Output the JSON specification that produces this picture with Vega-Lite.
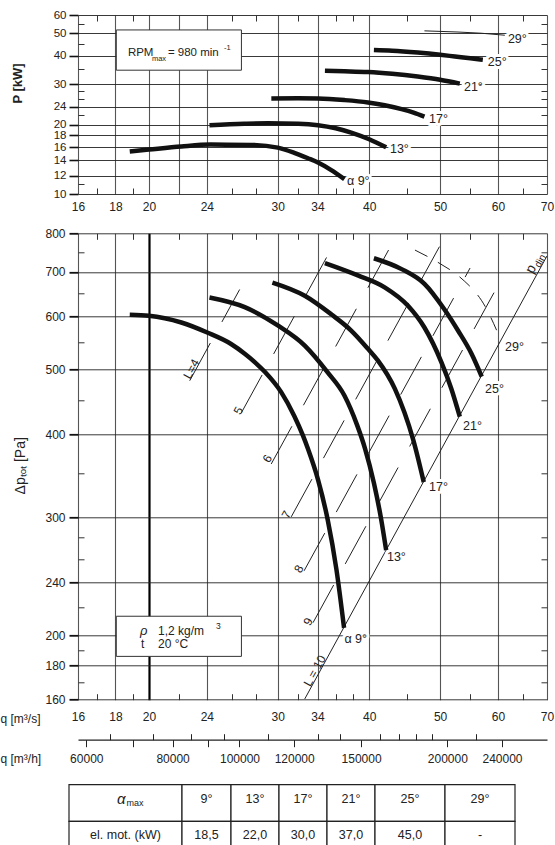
{
"$schema":"https://vega.github.io/schema/vega-lite/v6.json",
"background":"white",
"padding":{"left":0,"top":9,"right":0,"bottom":0},
"autosize":{"type":"pad"},
"spacing":39.3,
"bounds":"flush",
"datasets":{
 "power":[
  {"a":"9","q":18.83,"P":15.3},{"a":"9","q":20,"P":15.6},{"a":"9","q":22.15,"P":16.1},{"a":"9","q":24.3,"P":16.4},{"a":"9","q":27.6,"P":16.35},{"a":"9","q":30,"P":15.9},{"a":"9","q":31.6,"P":15.1},{"a":"9","q":33,"P":14.3},{"a":"9","q":34.05,"P":13.7},{"a":"9","q":35.5,"P":12.7},{"a":"9","q":37,"P":11.6},
  {"a":"13","q":24.2,"P":19.9},{"a":"13","q":27,"P":20.2},{"a":"13","q":29.1,"P":20.3},{"a":"13","q":32,"P":20.2},{"a":"13","q":34.05,"P":19.9},{"a":"13","q":36,"P":19.3},{"a":"13","q":37.8,"P":18.5},{"a":"13","q":40,"P":17.3},{"a":"13","q":42.2,"P":15.95},
  {"a":"17","q":29.4,"P":26.0},{"a":"17","q":32,"P":26.05},{"a":"17","q":34.05,"P":26.0},{"a":"17","q":37,"P":25.6},{"a":"17","q":39.85,"P":25.0},{"a":"17","q":42,"P":24.3},{"a":"17","q":44.3,"P":23.4},{"a":"17","q":46,"P":22.6},{"a":"17","q":47.6,"P":21.7},
  {"a":"21","q":34.8,"P":34.3},{"a":"21","q":37,"P":34.15},{"a":"21","q":39.85,"P":33.9},{"a":"21","q":43,"P":33.3},{"a":"21","q":46.6,"P":32.4},{"a":"21","q":50,"P":31.4},{"a":"21","q":53.2,"P":30.2},
  {"a":"25","q":40.6,"P":42.3},{"a":"25","q":43,"P":42.0},{"a":"25","q":46.6,"P":41.2},{"a":"25","q":50,"P":40.3},{"a":"25","q":52.4,"P":39.6},{"a":"25","q":55,"P":38.9},{"a":"25","q":57.2,"P":38.3}
 ],
 "pressure":[
  {"a":"9","q":18.83,"p":604},{"a":"9","q":20,"p":602},{"a":"9","q":22.15,"p":588},{"a":"9","q":24.03,"p":568},{"a":"9","q":25.9,"p":546},{"a":"9","q":27.04,"p":528},{"a":"9","q":27.9,"p":513},{"a":"9","q":28.8,"p":496},{"a":"9","q":30.34,"p":462},{"a":"9","q":31.6,"p":426},{"a":"9","q":32.48,"p":398},{"a":"9","q":33,"p":380},{"a":"9","q":34.05,"p":342},{"a":"9","q":35.1,"p":298},{"a":"9","q":36.08,"p":251},{"a":"9","q":36.96,"p":205},
  {"a":"13","q":24.2,"p":641},{"a":"13","q":27.04,"p":620},{"a":"13","q":30,"p":582},{"a":"13","q":32.66,"p":543},{"a":"13","q":35.1,"p":495},{"a":"13","q":37,"p":457},{"a":"13","q":38.5,"p":413},{"a":"13","q":39.5,"p":380},{"a":"13","q":40.6,"p":338},{"a":"13","q":41.5,"p":300},{"a":"13","q":42.2,"p":268},
  {"a":"17","q":29.5,"p":675},{"a":"17","q":32.66,"p":645},{"a":"17","q":35.5,"p":605},{"a":"17","q":37.8,"p":572},{"a":"17","q":39.85,"p":537},{"a":"17","q":41.1,"p":516},{"a":"17","q":43.36,"p":468},{"a":"17","q":44.7,"p":431},{"a":"17","q":45.93,"p":393},{"a":"17","q":47.5,"p":339},
  {"a":"21","q":34.8,"p":722},{"a":"21","q":38.6,"p":692},{"a":"21","q":42,"p":664},{"a":"21","q":45.2,"p":623},{"a":"21","q":47.6,"p":578},{"a":"21","q":50.2,"p":513},{"a":"21","q":51.8,"p":468},{"a":"21","q":53.2,"p":425},
  {"a":"25","q":40.6,"p":734},{"a":"25","q":44.3,"p":707},{"a":"25","q":47.6,"p":672},{"a":"25","q":50.7,"p":615},{"a":"25","q":52.9,"p":572},{"a":"25","q":55.2,"p":528},{"a":"25","q":57,"p":488}
 ],
 "Llines":[
  {"L":4,"q":22.74,"p":481},{"L":4,"q":26.61,"p":659},
  {"L":5,"q":26.76,"p":430.8},{"L":5,"q":35.6,"p":762.4},
  {"L":6,"q":29.39,"p":360.9},{"L":6,"q":42.9,"p":768.8},
  {"L":7,"q":31.3,"p":300.7},{"L":7,"q":49.9,"p":764},
  {"L":8,"q":32.59,"p":249.6},{"L":8,"q":54.95,"p":709.7},
  {"L":9,"q":33.52,"p":208.7},{"L":9,"q":59.25,"p":651.9}
 ],
 "pdin":[{"q":32.66,"p":160.4},{"q":70,"p":740}],
 "a29p":[{"q":46.2,"p":755},{"q":50.1,"p":719.5},{"q":53.2,"p":688},{"q":57.6,"p":622},{"q":60.6,"p":552}],
 "a29P":[{"q":47.6,"P":51.2},{"q":52.9,"P":50.6},{"q":56.9,"P":50.0},{"q":61.3,"P":49.0}],
 "topLabels":[{"t":"α 9°","q":37.3,"P":11.42},{"t":"13°","q":42.7,"P":15.68},{"t":"17°","q":48.3,"P":21.16},{"t":"21°","q":53.9,"P":29.33},{"t":"25°","q":58.1,"P":37.5},{"t":"29°","q":61.9,"P":47.06}],
 "botLabels":[{"t":"α 9°","q":37.0,"p":197.3},{"t":"13°","q":42.3,"p":262},{"t":"17°","q":48.3,"p":333},{"t":"21°","q":53.75,"p":412},{"t":"25°","q":57.6,"p":467.6},{"t":"29°","q":61.35,"p":539.8}],
 "Llabels":[{"t":"L=4","q":22.86,"p":501},{"t":"5","q":26.5,"p":433.8},{"t":"6","q":29.03,"p":367.5},{"t":"7","q":30.82,"p":302.9},{"t":"8","q":32.06,"p":251.2},{"t":"9","q":33.0,"p":209.5},{"t":"L = 10","q":33.7,"p":176.8}],
 "rpmBox":[{"q0":18.05,"q1":26.76,"P0":34.53,"P1":51.66}],
 "rpmAnchor":[{"q":18.72,"P":41.2}],
 "rhoBox":[{"q0":18.05,"q1":26.76,"p0":185.8,"p1":213.4}],
 "rhoAnchor":[{"q":19.45,"p":203}],
 "pdinLabel":[{"q":67.0,"p":715}],
 "table":[
   {"r":"a","c0":0,"c1":113,"t":""},{"r":"b","c0":0,"c1":113,"t":"el. mot. (kW)"},
   {"r":"a","c0":113,"c1":162,"t":"9°"},{"r":"b","c0":113,"c1":162,"t":"18,5"},
   {"r":"a","c0":162,"c1":210,"t":"13°"},{"r":"b","c0":162,"c1":210,"t":"22,0"},
   {"r":"a","c0":210,"c1":258,"t":"17°"},{"r":"b","c0":210,"c1":258,"t":"30,0"},
   {"r":"a","c0":258,"c1":306,"t":"21°"},{"r":"b","c0":258,"c1":306,"t":"37,0"},
   {"r":"a","c0":306,"c1":376,"t":"25°"},{"r":"b","c0":306,"c1":376,"t":"45,0"},
   {"r":"a","c0":376,"c1":446,"t":"29°"},{"r":"b","c0":376,"c1":446,"t":"-"}
 ]
},
"vconcat":[
 {
  "width":469,"height":179,
  "layer":[
   {"layer":[
     {"data":{"name":"rpmBox"},"mark":{"type":"rect","fill":"white","stroke":"#333","strokeWidth":1},
      "encoding":{"x":{"field":"q0","type":"quantitative","scale":{"type":"log","domain":[16,70],"nice":false}},"x2":{"field":"q1"},
                  "y":{"field":"P0","type":"quantitative","scale":{"type":"log","domain":[10,60],"nice":false}},"y2":{"field":"P1"}}},
     {"data":{"name":"topLabels"},"mark":{"type":"text","align":"left","baseline":"middle","fontSize":12.5,"color":"white","stroke":"white","strokeWidth":6,"strokeJoin":"round"},
      "encoding":{"x":{"field":"q","type":"quantitative","scale":{"type":"log","domain":[16,70],"nice":false}},"y":{"field":"P","type":"quantitative","scale":{"type":"log","domain":[10,60],"nice":false}},"text":{"field":"t"}}},
     {"data":{"name":"power"},"mark":{"type":"line","color":"#111","strokeWidth":4.5,"interpolate":"monotone"},
      "encoding":{
       "x":{"field":"q","type":"quantitative","scale":{"type":"log","domain":[16,70],"nice":false},
            "axis":{"orient":"bottom","values":[16,18,20,22,24,30,34,40,50,60,70],"labelExpr":"datum.value == 22 ? '' : '' + datum.value","ticks":false,"domain":false,"grid":true,"gridColor":"#555","gridWidth":1.1,"labelPadding":7,"title":null}},
       "y":{"field":"P","type":"quantitative","scale":{"type":"log","domain":[10,60],"nice":false},
            "axis":{"orient":"left","values":[10,12,14,16,18,20,24,30,40,50,60],"labelExpr":"'' + datum.value","labelFontSize":11.5,"tickSize":9,"tickWidth":1.6,"tickColor":"#111","domain":false,"grid":true,"gridColor":"#222","gridWidth":0.9,"labelPadding":3,"title":"P [kW]","titleFontWeight":"bold","titleFontSize":13,"titleAngle":270,"titleX":-61,"titleY":68,"titleAlign":"center","titleBaseline":"middle"}},
       "detail":{"field":"a","type":"nominal"}}},
     {"data":{"name":"a29P"},"mark":{"type":"line","color":"#222","strokeWidth":1},
      "encoding":{"x":{"field":"q","type":"quantitative","scale":{"type":"log","domain":[16,70],"nice":false}},"y":{"field":"P","type":"quantitative","scale":{"type":"log","domain":[10,60],"nice":false}}}},
     {"data":{"name":"topLabels"},"mark":{"type":"text","align":"left","baseline":"middle","fontSize":12.5,"color":"#222"},
      "encoding":{"x":{"field":"q","type":"quantitative","scale":{"type":"log","domain":[16,70],"nice":false}},"y":{"field":"P","type":"quantitative","scale":{"type":"log","domain":[10,60],"nice":false}},"text":{"field":"t"}}},
     {"data":{"name":"rpmAnchor"},"mark":{"type":"text","text":"RPM","align":"left","baseline":"middle","fontSize":11.5,"color":"#222"},
      "encoding":{"x":{"field":"q","type":"quantitative","scale":{"type":"log","domain":[16,70],"nice":false}},"y":{"field":"P","type":"quantitative","scale":{"type":"log","domain":[10,60],"nice":false}}}},
     {"data":{"name":"rpmAnchor"},"mark":{"type":"text","text":"max","align":"left","baseline":"middle","fontSize":7.5,"dx":24,"dy":6,"color":"#222"},
      "encoding":{"x":{"field":"q","type":"quantitative","scale":{"type":"log","domain":[16,70],"nice":false}},"y":{"field":"P","type":"quantitative","scale":{"type":"log","domain":[10,60],"nice":false}}}},
     {"data":{"name":"rpmAnchor"},"mark":{"type":"text","text":"= 980 min","align":"left","baseline":"middle","fontSize":11.5,"dx":40,"color":"#222"},
      "encoding":{"x":{"field":"q","type":"quantitative","scale":{"type":"log","domain":[16,70],"nice":false}},"y":{"field":"P","type":"quantitative","scale":{"type":"log","domain":[10,60],"nice":false}}}},
     {"data":{"name":"rpmAnchor"},"mark":{"type":"text","text":"-1","align":"left","baseline":"middle","fontSize":7.5,"dx":96,"dy":-5,"color":"#222"},
      "encoding":{"x":{"field":"q","type":"quantitative","scale":{"type":"log","domain":[16,70],"nice":false}},"y":{"field":"P","type":"quantitative","scale":{"type":"log","domain":[10,60],"nice":false}}}}
   ]},
   {"data":{"values":[{"q":30,"P":20}]},"mark":{"type":"point","opacity":0},
    "encoding":{
     "x":{"field":"q","type":"quantitative","scale":{"type":"log","domain":[16,70],"nice":false},"axis":{"orient":"top","values":[17,19,26,28,32,36,38,45,55,65],"labels":false,"domain":false,"grid":false,"ticks":true,"tickSize":6,"offset":-6,"tickColor":"#333","title":null}},
     "y":{"field":"P","type":"quantitative","scale":{"type":"log","domain":[10,60],"nice":false},"axis":{"orient":"right","values":[11,22,26,28,35,45,55],"labels":false,"domain":false,"grid":false,"ticks":true,"tickSize":6,"offset":-6,"tickColor":"#333","title":null}}}},
   {"data":{"values":[{"q":30,"P":20}]},"mark":{"type":"point","opacity":0},
    "encoding":{
     "x":{"field":"q","type":"quantitative","scale":{"type":"log","domain":[16,70],"nice":false},"axis":{"orient":"bottom","values":[17,19,26,28,32,36,38,45,55,65],"labels":false,"domain":false,"grid":false,"ticks":true,"tickSize":6,"offset":-6,"tickColor":"#333","title":null}},
     "y":{"field":"P","type":"quantitative","scale":{"type":"log","domain":[10,60],"nice":false},"axis":{"orient":"left","values":[11,22,26,28,35,45,55],"labels":false,"domain":false,"grid":false,"ticks":true,"tickSize":6,"offset":-6,"tickColor":"#333","title":null}}}}
  ],
  "resolve":{"scale":{"x":"independent","y":"independent"},"axis":{"x":"independent","y":"independent"}}
 },
 {
  "width":469,"height":466.4,
  "layer":[
   {"layer":[
     {"data":{"name":"rhoBox"},"mark":{"type":"rect","fill":"white","stroke":"#333","strokeWidth":1},
      "encoding":{"x":{"field":"q0","type":"quantitative","scale":{"type":"log","domain":[16,70],"nice":false}},"x2":{"field":"q1"},
                  "y":{"field":"p0","type":"quantitative","scale":{"type":"log","domain":[160,800],"nice":false}},"y2":{"field":"p1"}}},
     {"data":{"name":"Llines"},"mark":{"type":"line","color":"#222","strokeWidth":1,"strokeDash":[43,24]},
      "encoding":{"x":{"field":"q","type":"quantitative","scale":{"type":"log","domain":[16,70],"nice":false}},"y":{"field":"p","type":"quantitative","scale":{"type":"log","domain":[160,800],"nice":false}},"detail":{"field":"L","type":"nominal"}}},
     {"data":{"name":"pdin"},"mark":{"type":"line","color":"#222","strokeWidth":1},
      "encoding":{"x":{"field":"q","type":"quantitative","scale":{"type":"log","domain":[16,70],"nice":false}},"y":{"field":"p","type":"quantitative","scale":{"type":"log","domain":[160,800],"nice":false}}}},
     {"data":{"name":"a29p"},"mark":{"type":"line","color":"#222","strokeWidth":1,"strokeDash":[14,12],"interpolate":"monotone"},
      "encoding":{"x":{"field":"q","type":"quantitative","scale":{"type":"log","domain":[16,70],"nice":false}},"y":{"field":"p","type":"quantitative","scale":{"type":"log","domain":[160,800],"nice":false}}}},
     {"data":{"name":"botLabels"},"mark":{"type":"text","align":"left","baseline":"middle","fontSize":12.5,"color":"white","stroke":"white","strokeWidth":6,"strokeJoin":"round"},
      "encoding":{"x":{"field":"q","type":"quantitative","scale":{"type":"log","domain":[16,70],"nice":false}},"y":{"field":"p","type":"quantitative","scale":{"type":"log","domain":[160,800],"nice":false}},"text":{"field":"t"}}},
     {"data":{"name":"pressure"},"mark":{"type":"line","color":"#111","strokeWidth":4.5,"interpolate":"monotone"},
      "encoding":{
       "x":{"field":"q","type":"quantitative","scale":{"type":"log","domain":[16,70],"nice":false},
            "axis":{"orient":"bottom","values":[16,18,20,24,30,34,40,50,60,70],"labelExpr":"'' + datum.value","ticks":false,"domain":false,"grid":true,
                    "gridColor":{"condition":{"test":"datum.value == 20","value":"#000"},"value":"#555"},
                    "gridWidth":{"condition":{"test":"datum.value == 20","value":2.2},"value":1.1},
                    "labelPadding":12,"title":"q [m³/s]","titleFontSize":12,"titleAngle":0,"titleX":-78,"titleY":18.5,"titleAlign":"left","titleBaseline":"middle"}},
       "y":{"field":"p","type":"quantitative","scale":{"type":"log","domain":[160,800],"nice":false},
            "axis":{"orient":"left","values":[160,180,200,240,300,400,500,600,700,800],"labelExpr":"'' + datum.value","tickSize":9,"tickWidth":1.8,"tickColor":"#111","domain":false,"grid":true,"gridColor":"#222","gridWidth":0.9,"labelPadding":4,"title":"Δpₜₒₜ [Pa]","titleFontSize":14,"titleAngle":270,"titleX":-58,"titleY":232,"titleAlign":"center","titleBaseline":"middle"}},
       "detail":{"field":"a","type":"nominal"}}},
     {"data":{"name":"botLabels"},"mark":{"type":"text","align":"left","baseline":"middle","fontSize":12.5,"color":"#222"},
      "encoding":{"x":{"field":"q","type":"quantitative","scale":{"type":"log","domain":[16,70],"nice":false}},"y":{"field":"p","type":"quantitative","scale":{"type":"log","domain":[160,800],"nice":false}},"text":{"field":"t"}}},
     {"data":{"name":"Llabels"},"mark":{"type":"text","align":"center","baseline":"middle","fontSize":12,"angle":299,"color":"#222"},
      "encoding":{"x":{"field":"q","type":"quantitative","scale":{"type":"log","domain":[16,70],"nice":false}},"y":{"field":"p","type":"quantitative","scale":{"type":"log","domain":[160,800],"nice":false}},"text":{"field":"t"}}},
     {"data":{"name":"pdinLabel"},"mark":{"type":"text","text":"p","align":"right","baseline":"middle","fontSize":14,"angle":299,"color":"#222"},
      "encoding":{"x":{"field":"q","type":"quantitative","scale":{"type":"log","domain":[16,70],"nice":false}},"y":{"field":"p","type":"quantitative","scale":{"type":"log","domain":[160,800],"nice":false}}}},
     {"data":{"name":"pdinLabel"},"mark":{"type":"text","text":"din","align":"left","baseline":"middle","fontSize":10,"angle":299,"dx":1,"dy":4,"color":"#222"},
      "encoding":{"x":{"field":"q","type":"quantitative","scale":{"type":"log","domain":[16,70],"nice":false}},"y":{"field":"p","type":"quantitative","scale":{"type":"log","domain":[160,800],"nice":false}}}},
     {"data":{"name":"rhoAnchor"},"mark":{"type":"text","text":"ρ","align":"left","baseline":"middle","fontSize":13,"fontStyle":"italic","color":"#222"},
      "encoding":{"x":{"field":"q","type":"quantitative","scale":{"type":"log","domain":[16,70],"nice":false}},"y":{"field":"p","type":"quantitative","scale":{"type":"log","domain":[160,800],"nice":false}}}},
     {"data":{"name":"rhoAnchor"},"mark":{"type":"text","text":"1,2 kg/m","align":"left","baseline":"middle","fontSize":12,"dx":18,"color":"#222"},
      "encoding":{"x":{"field":"q","type":"quantitative","scale":{"type":"log","domain":[16,70],"nice":false}},"y":{"field":"p","type":"quantitative","scale":{"type":"log","domain":[160,800],"nice":false}}}},
     {"data":{"name":"rhoAnchor"},"mark":{"type":"text","text":"3","align":"left","baseline":"middle","fontSize":8.5,"dx":76,"dy":-5,"color":"#222"},
      "encoding":{"x":{"field":"q","type":"quantitative","scale":{"type":"log","domain":[16,70],"nice":false}},"y":{"field":"p","type":"quantitative","scale":{"type":"log","domain":[160,800],"nice":false}}}},
     {"data":{"name":"rhoAnchor"},"mark":{"type":"text","text":"t","align":"left","baseline":"middle","fontSize":12,"dx":1,"dy":13.3,"color":"#222"},
      "encoding":{"x":{"field":"q","type":"quantitative","scale":{"type":"log","domain":[16,70],"nice":false}},"y":{"field":"p","type":"quantitative","scale":{"type":"log","domain":[160,800],"nice":false}}}},
     {"data":{"name":"rhoAnchor"},"mark":{"type":"text","text":"20 °C","align":"left","baseline":"middle","fontSize":12,"dx":18,"dy":13.3,"color":"#222"},
      "encoding":{"x":{"field":"q","type":"quantitative","scale":{"type":"log","domain":[16,70],"nice":false}},"y":{"field":"p","type":"quantitative","scale":{"type":"log","domain":[160,800],"nice":false}}}}
   ]},
   {"data":{"values":[{"q":30,"p":300}]},"mark":{"type":"point","opacity":0},
    "encoding":{
     "x":{"field":"q","type":"quantitative","scale":{"type":"log","domain":[16,70],"nice":false},"axis":{"orient":"top","values":[17,19,22,26,28,32,36,38,45,55,65],"labels":false,"domain":false,"grid":false,"ticks":true,"tickSize":6,"offset":-6,"tickColor":"#333","title":null}},
     "y":{"field":"p","type":"quantitative","scale":{"type":"log","domain":[160,800],"nice":false},"axis":{"orient":"right","values":[170,190,220,260,280,350,450,550,650,750],"labels":false,"domain":false,"grid":false,"ticks":true,"tickSize":6,"offset":-6,"tickColor":"#333","title":null}}}},
   {"data":{"values":[{"q":30,"p":300}]},"mark":{"type":"point","opacity":0},
    "encoding":{
     "x":{"field":"q","type":"quantitative","scale":{"type":"log","domain":[16,70],"nice":false},"axis":{"orient":"bottom","values":[17,19,22,26,28,32,36,38,45,55,65],"labels":false,"domain":false,"grid":false,"ticks":true,"tickSize":6,"offset":-6,"tickColor":"#333","title":null}},
     "y":{"field":"p","type":"quantitative","scale":{"type":"log","domain":[160,800],"nice":false},"axis":{"orient":"left","values":[170,190,220,260,280,350,450,550,650,750],"labels":false,"domain":false,"grid":false,"ticks":true,"tickSize":6,"offset":-6,"tickColor":"#333","title":null}}}},
   {"data":{"values":[{"qh":100000,"p":300}]},"mark":{"type":"point","opacity":0},
    "encoding":{
     "x":{"field":"qh","type":"quantitative","scale":{"type":"log","domain":[58360,278880],"nice":false},
          "axis":{"orient":"bottom","offset":40,"values":[60000,70000,80000,90000,100000,120000,150000,200000,240000],"labelExpr":"datum.value == 70000 || datum.value == 90000 ? '' : '' + datum.value","tickSize":7,"tickColor":"#222","tickWidth":1,"domain":true,"domainColor":"#222","domainWidth":1.2,"grid":false,"labelPadding":7,"title":"q [m³/h]","titleFontSize":12,"titleAngle":0,"titleX":-78,"titleY":18.5,"titleAlign":"left","titleBaseline":"middle"}},
     "y":{"field":"p","type":"quantitative","scale":{"type":"log","domain":[160,800],"nice":false},"axis":null}}},
   {"data":{"values":[{"qh":100000,"p":300}]},"mark":{"type":"point","opacity":0},
    "encoding":{
     "x":{"field":"qh","type":"quantitative","scale":{"type":"log","domain":[58360,278880],"nice":false},
          "axis":{"orient":"bottom","offset":34,"values":[65000,75000,85000,95000,110000,130000,140000,160000,170000,180000,190000,220000],"labels":false,"tickSize":6,"tickColor":"#222","tickWidth":1,"domain":false,"grid":false,"title":null}},
     "y":{"field":"p","type":"quantitative","scale":{"type":"log","domain":[160,800],"nice":false},"axis":null}}}
  ],
  "resolve":{"scale":{"x":"independent","y":"independent"},"axis":{"x":"independent","y":"independent"}}
 },
 {
  "width":469,"height":118.4,
  "layer":[
   {"data":{"name":"table"},"mark":{"type":"rect","fill":"white","stroke":"#222","strokeWidth":1.2},
    "encoding":{"x":{"field":"c0","type":"quantitative","axis":null,"scale":{"domain":[9,478],"nice":false,"zero":false}},"x2":{"field":"c1"},
                "y":{"field":"r","type":"nominal","axis":null,"scale":{"type":"band","domain":["a","b"],"paddingInner":0,"paddingOuter":0.613,"align":1}}}},
   {"data":{"name":"table"},"transform":[{"calculate":"(datum.c0 + datum.c1) / 2","as":"cm"}],
    "mark":{"type":"text","fontSize":12.5,"baseline":"middle","align":"center","color":"#222"},
    "encoding":{"x":{"field":"cm","type":"quantitative","axis":null,"scale":{"domain":[9,478],"nice":false,"zero":false}},
                "y":{"field":"r","type":"nominal","axis":null,"bandPosition":0.38,"scale":{"type":"band","domain":["a","b"],"paddingInner":0,"paddingOuter":0.613,"align":1}},"text":{"field":"t"}}},
   {"data":{"name":"table"},"transform":[{"filter":"datum.r == 'a' && datum.c0 == 0"},{"calculate":"(datum.c0 + datum.c1) / 2","as":"cm"}],
    "mark":{"type":"text","text":"α","fontSize":15,"fontStyle":"italic","align":"right","baseline":"middle","color":"#222"},
    "encoding":{"x":{"field":"cm","type":"quantitative","axis":null,"scale":{"domain":[9,478],"nice":false,"zero":false}},
                "y":{"field":"r","type":"nominal","axis":null,"bandPosition":0.38,"scale":{"type":"band","domain":["a","b"],"paddingInner":0,"paddingOuter":0.613,"align":1}}}},
   {"data":{"name":"table"},"transform":[{"filter":"datum.r == 'a' && datum.c0 == 0"},{"calculate":"(datum.c0 + datum.c1) / 2","as":"cm"}],
    "mark":{"type":"text","text":"max","fontSize":9,"align":"left","baseline":"middle","dx":1,"dy":4,"color":"#222"},
    "encoding":{"x":{"field":"cm","type":"quantitative","axis":null,"scale":{"domain":[9,478],"nice":false,"zero":false}},
                "y":{"field":"r","type":"nominal","axis":null,"bandPosition":0.38,"scale":{"type":"band","domain":["a","b"],"paddingInner":0,"paddingOuter":0.613,"align":1}}}}
  ]
 }
],
"config":{
 "font":"Liberation Sans",
 "view":{"stroke":null},
 "axis":{"labelFont":"Liberation Sans","labelFontSize":12,"labelColor":"#222","titleFont":"Liberation Sans","titleColor":"#222","titleFontWeight":"normal","labelFlush":false,"labelOverlap":false,"labelBound":false},
 "text":{"font":"Liberation Sans","fontSize":12,"color":"#222"}
}
}
